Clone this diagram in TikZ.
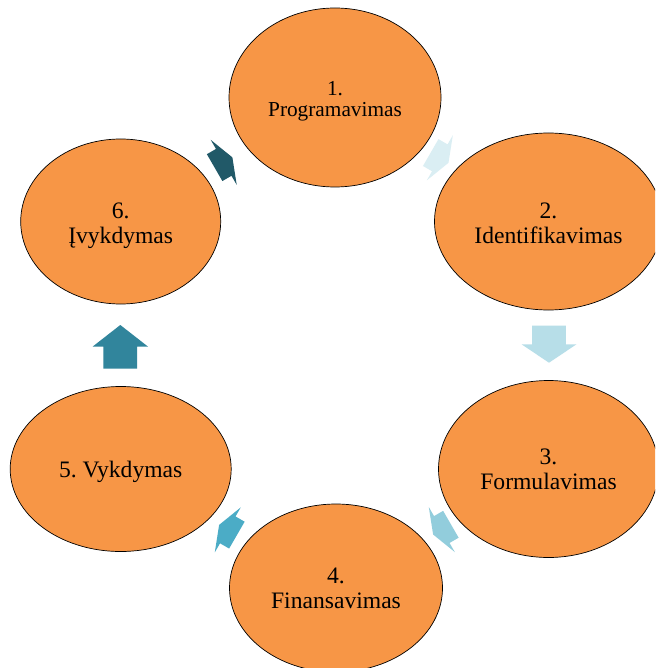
\documentclass[tikz,border=0pt]{standalone}
\usepackage{fontspec}
\setmainfont{Liberation Serif}
\usetikzlibrary{shapes.geometric}
\definecolor{ellfill}{HTML}{F79646}
\definecolor{arA}{HTML}{DAEEF3}
\definecolor{arB}{HTML}{B7DEE8}
\definecolor{arC}{HTML}{92CDDC}
\definecolor{arD}{HTML}{4BACC6}
\definecolor{arE}{HTML}{31859C}
\definecolor{arF}{HTML}{215968}
\newcommand{\blockarr}[8]{%
  % #1 name, #2 colour, #3 centre, #4 angle, #5 shaft len, #6 head len, #7 shaft width, #8 head width
  \begin{scope}[shift={#3},rotate=#4]
    \pgfmathsetmacro{\tl}{-(#5+#6)/2}
    \pgfmathsetmacro{\hb}{-(#5+#6)/2+#5}
    \pgfmathsetmacro{\tp}{(#5+#6)/2}
    \fill[#2] (\tl,-#7/2) -- (\hb,-#7/2) -- (\hb,-#8/2) -- (\tp,0) coordinate (#1)
      -- (\hb,#8/2) -- (\hb,#7/2) -- (\tl,#7/2) -- cycle;
  \end{scope}}
\begin{document}
\frenchspacing
\begin{tikzpicture}[x=1pt,y=-1pt,
  ell/.style={ellipse,draw=black,line width=0.7pt,fill=ellfill,inner sep=0pt},
  lbl/.style={inner sep=0pt,align=center,text=black,font=\fontsize{23.6}{25}\selectfont}]
\useasboundingbox (0,0) rectangle (655,668);
\fill[white] (0,0) rectangle (655,668);
\clip (0,0) rectangle (655,668);
\node[ell,minimum width=212pt,minimum height=179pt] (e1) at (335,97.5) {};
\node[ell,minimum width=228pt,minimum height=177pt] (e2) at (548.5,221.5) {};
\node[ell,minimum width=220pt,minimum height=177pt] (e3) at (548.5,469) {};
\node[ell,minimum width=213pt,minimum height=168pt] (e4) at (336,588) {};
\node[ell,minimum width=221pt,minimum height=165pt] (e5) at (120.7,469) {};
\node[ell,minimum width=200pt,minimum height=165pt] (e6) at (120.7,221.5) {};
\node[lbl,font=\fontsize{21.3}{21}\selectfont] (t1) at ([yshift=-4pt]e1.center) {1.\\Programavimas};
\node[lbl] (t2) at ([yshift=-2pt]e2.center) {2.\\Identifikavimas};
\node[lbl] (t3) at (e3.center) {3.\\Formulavimas};
\node[lbl] (t4) at (e4.center) {4.\\Finansavimas};
\node[lbl] (t5) at ([yshift=-3pt]e5.center) {5. Vykdymas};
\node[lbl] (t6) at ([yshift=-4pt]e6.center) {6.\\Įvykdymas};
\blockarr{a12}{arA}{(439.6,157.7)}{-30}{10.5}{10}{31}{52}
\blockarr{a23}{arB}{(549,344.2)}{-90}{18.6}{18.4}{33.7}{55}
\blockarr{a34}{arC}{(442,529.4)}{-150}{10.5}{10}{31}{52}
\blockarr{a45}{arD}{(228,530)}{150}{10.5}{10}{31}{52}
\blockarr{a56}{arE}{(120.3,346.85)}{90}{22}{21.7}{33.7}{55.6}
\blockarr{a61}{arF}{(223.5,162.5)}{30}{10.5}{10}{31}{52}
\end{tikzpicture}
\end{document}
